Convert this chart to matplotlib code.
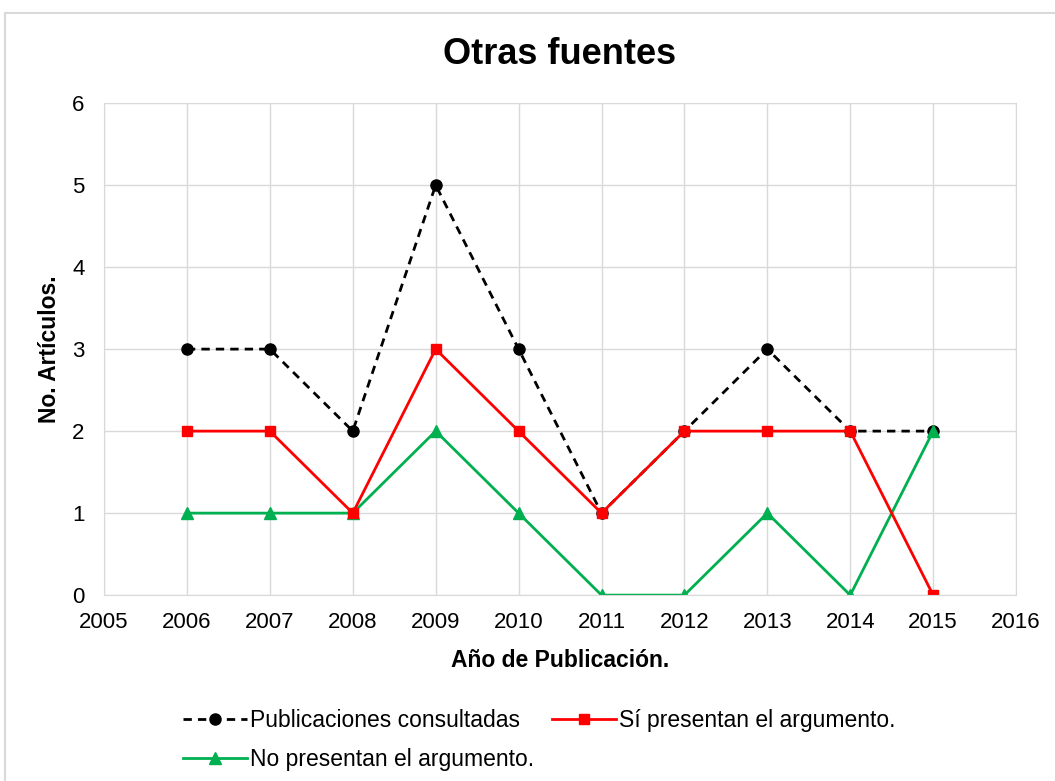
import matplotlib.pyplot as plt
from matplotlib.patches import Rectangle

plt.rcParams['font.family'] = ['Liberation Sans', 'DejaVu Sans']

# datos
anios = [2006, 2007, 2008, 2009, 2010, 2011, 2012, 2013, 2014, 2015]
consultadas = [3, 3, 2, 5, 3, 1, 2, 3, 2, 2]
si_presentan = [2, 2, 1, 3, 2, 1, 2, 2, 2, 0]
no_presentan = [1, 1, 1, 2, 1, 0, 0, 1, 0, 2]

fig = plt.figure(figsize=(10.55, 7.81), dpi=100)
ax = fig.add_axes([0.0986, 0.238, 0.8645, 0.630])

# marco del grafico
fig.patches.append(Rectangle((5 / 1055, -0.1), 1.2, 1 - 13 / 781 + 0.1,
                             transform=fig.transFigure, fill=False,
                             edgecolor='#d9d9d9', linewidth=1.5))

ax.plot(anios, consultadas, color='black', linestyle='--', linewidth=2,
        marker='o', markersize=8, dashes=(3, 2.2), label='Publicaciones consultadas')
ax.plot(anios, no_presentan, color='#00b050', linewidth=2,
        marker='^', markersize=8, label='No presentan el argumento.')
ax.plot(anios, si_presentan, color='#ff0000', linewidth=2,
        marker='s', markersize=7, label='Sí presentan el argumento.')

ax.set_xlim(2005, 2016)
ax.set_ylim(0, 6)
ax.set_xticks(range(2005, 2017))
ax.set_yticks(range(0, 7))
ax.grid(True, color='#d9d9d9', linewidth=1)
ax.set_axisbelow(True)
for s in ax.spines.values():
    s.set_color('#d9d9d9')
ax.tick_params(length=0, labelsize=16, pad=12)
ax.tick_params(axis='y', pad=14)

ax.set_title('Otras fuentes', fontsize=26, fontweight='bold', pad=28)
ax.set_xlabel('Año de Publicación.', fontsize=16.5, fontweight='bold', labelpad=12)
ax.set_ylabel('No. Artículos.', fontsize=16.5, fontweight='bold', labelpad=8)

h, l = ax.get_legend_handles_labels()
fig.legend(h, l, ncol=2, loc='upper left', bbox_to_anchor=(0.165, 0.104),
           frameon=False, fontsize=16.5, handlelength=2.8, handletextpad=0.1,
           columnspacing=0.8, labelspacing=0.72, borderaxespad=0)

fig.savefig('out.png', dpi=100)
